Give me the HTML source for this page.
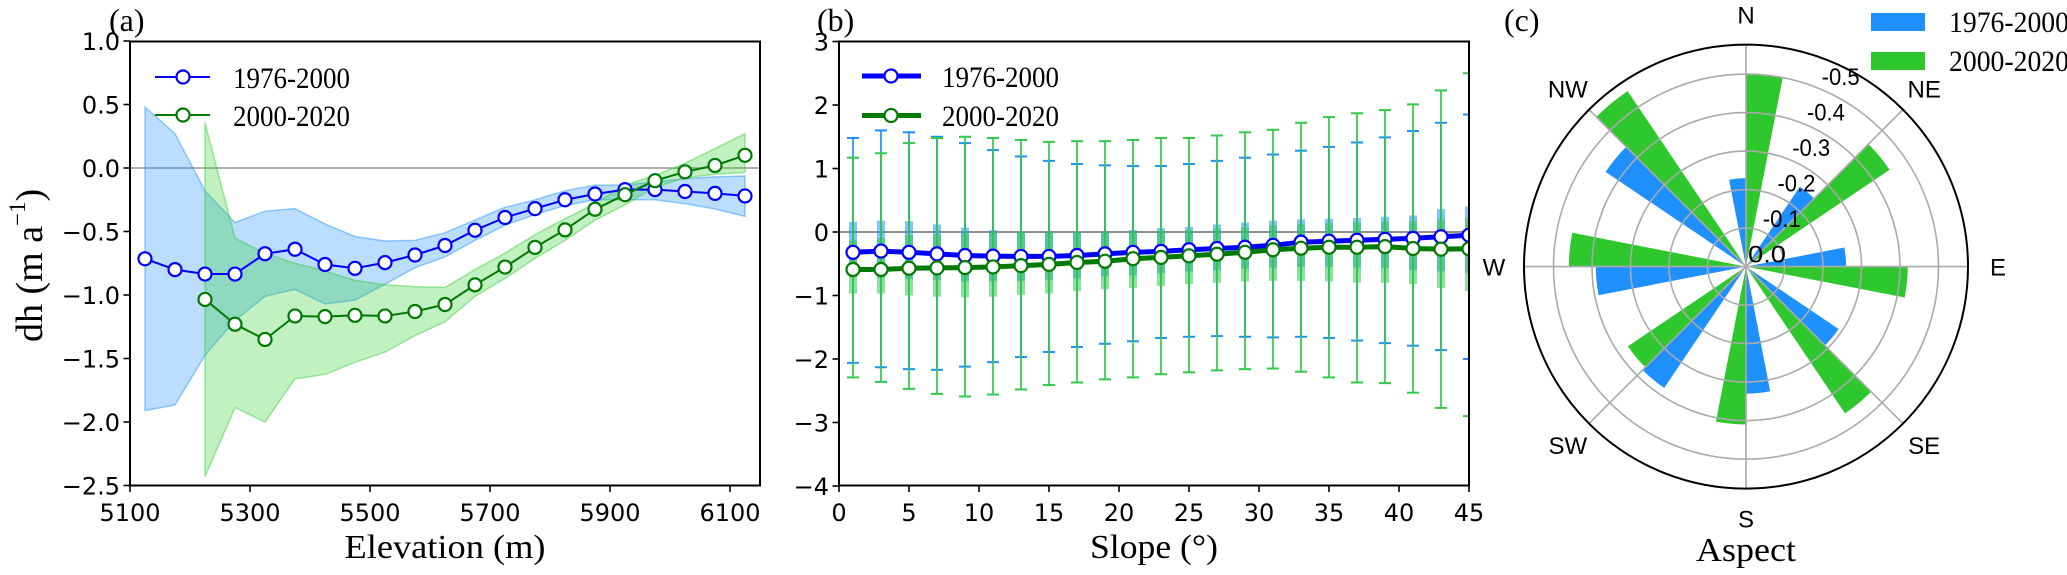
<!DOCTYPE html>
<html><head><meta charset="utf-8"><style>
html,body{margin:0;padding:0;background:#fff;}
svg{display:block;}
body{position:relative;width:2067px;height:575px;overflow:hidden;}
</style></head><body>
<svg id="fig" width="2067" height="575" viewBox="0 0 2067 575" xmlns="http://www.w3.org/2000/svg">
<g id="pa"></g>
<g id="pb"></g>
<g id="pc"></g>
</svg>
<script>
// ---------- Panel (a) data ----------
const elevations = [5125,5175,5225,5275,5325,5375,5425,5475,5525,5575,5625,5675,5725,5775,5825,5875,5925,5975,6025,6075,6125];
const blueMean  = [-0.715,-0.80,-0.835,-0.835,-0.675,-0.64,-0.76,-0.79,-0.745,-0.685,-0.61,-0.49,-0.39,-0.32,-0.25,-0.205,-0.17,-0.17,-0.185,-0.20,-0.22];
const blueUpper = [0.48,0.27,-0.18,-0.43,-0.34,-0.32,-0.44,-0.54,-0.575,-0.57,-0.51,-0.41,-0.31,-0.25,-0.18,-0.135,-0.135,-0.107,-0.084,-0.07,-0.063];
const blueLower = [-1.91,-1.865,-1.475,-1.20,-1.01,-0.955,-1.07,-1.04,-0.915,-0.785,-0.70,-0.57,-0.45,-0.366,-0.295,-0.25,-0.25,-0.25,-0.28,-0.323,-0.38];
const greenElev  = [5225,5275,5325,5375,5425,5475,5525,5575,5625,5675,5725,5775,5825,5875,5925,5975,6025,6075,6125];
const greenMean  = [-1.035,-1.23,-1.35,-1.165,-1.17,-1.16,-1.165,-1.13,-1.075,-0.92,-0.78,-0.625,-0.487,-0.325,-0.21,-0.10,-0.03,0.02,0.10];
const greenUpper = [0.355,-0.553,-0.67,-0.75,-0.81,-0.885,-0.92,-0.935,-0.94,-0.80,-0.67,-0.525,-0.40,-0.28,-0.135,-0.058,0.037,0.153,0.27];
const greenLower = [-2.43,-1.885,-2.0,-1.66,-1.625,-1.53,-1.45,-1.32,-1.21,-1.01,-0.87,-0.71,-0.57,-0.41,-0.29,-0.15,-0.078,-0.05,-0.035];
const aXTicks = [5100,5300,5500,5700,5900,6100];
const aYTicks = [1.0,0.5,0.0,-0.5,-1.0,-1.5,-2.0,-2.5];

// ---------- Panel (b) data ----------
const slopes = [1,3,5,7,9,11,13,15,17,19,21,23,25,27,29,31,33,35,37,39,41,43,45];
const bBlueMean  = [-0.32,-0.30,-0.32,-0.345,-0.37,-0.38,-0.385,-0.385,-0.37,-0.345,-0.32,-0.305,-0.28,-0.26,-0.24,-0.21,-0.16,-0.145,-0.13,-0.115,-0.10,-0.075,-0.05];
const bGreenMean = [-0.59,-0.59,-0.57,-0.565,-0.56,-0.55,-0.53,-0.51,-0.48,-0.46,-0.42,-0.40,-0.375,-0.35,-0.32,-0.28,-0.255,-0.24,-0.24,-0.23,-0.26,-0.27,-0.265];
const bBlueCapHi  = [1.48,1.60,1.57,1.50,1.40,1.29,1.19,1.12,1.07,1.05,1.04,1.04,1.07,1.12,1.17,1.22,1.28,1.34,1.41,1.49,1.59,1.72,1.85];
const bBlueCapLo  = [-2.06,-2.13,-2.16,-2.17,-2.12,-2.05,-1.97,-1.89,-1.81,-1.76,-1.72,-1.67,-1.65,-1.64,-1.65,-1.66,-1.65,-1.67,-1.71,-1.75,-1.79,-1.86,-2.0];
const bGreenCapHi = [1.17,1.24,1.40,1.48,1.50,1.48,1.45,1.42,1.43,1.43,1.45,1.48,1.48,1.52,1.57,1.61,1.72,1.81,1.87,1.92,2.01,2.23,2.50];
const bGreenCapLo = [-2.29,-2.36,-2.47,-2.55,-2.59,-2.56,-2.48,-2.41,-2.37,-2.32,-2.29,-2.24,-2.21,-2.18,-2.16,-2.15,-2.20,-2.29,-2.37,-2.38,-2.53,-2.77,-2.90];
const bBlueQ3  = [0.16,0.18,0.17,0.12,0.07,0.03,0.0,0.0,0.0,0.01,0.03,0.06,0.08,0.12,0.15,0.18,0.20,0.21,0.22,0.24,0.26,0.36,0.40];
const bBlueQ1  = [-0.71,-0.72,-0.74,-0.76,-0.78,-0.78,-0.77,-0.75,-0.73,-0.70,-0.68,-0.65,-0.62,-0.60,-0.58,-0.56,-0.55,-0.55,-0.56,-0.57,-0.60,-0.62,-0.65];
const bGreenQ3 = [-0.13,-0.10,-0.05,-0.03,-0.02,-0.01,0.0,0.0,0.0,0.0,0.01,0.02,0.03,0.05,0.07,0.10,0.12,0.14,0.15,0.16,0.17,0.20,0.22];
const bGreenQ1 = [-0.97,-0.97,-1.0,-1.02,-1.03,-1.02,-0.99,-0.97,-0.93,-0.90,-0.88,-0.85,-0.82,-0.80,-0.78,-0.77,-0.77,-0.78,-0.80,-0.80,-0.82,-0.88,-0.93];
const bXTicks = [0,5,10,15,20,25,30,35,40,45];
const bYTicks = [3,2,1,0,-1,-2,-3,-4];

// ---------- Panel (c) data ----------
const directions = [0,45,90,135,180,225,270,315];
const dirLabels = ["N","NE","E","SE","S","SW","W","NW"];
const aspectBlue  = [0.23,0.25,0.26,0.29,0.33,0.38,0.39,0.44];
const aspectGreen = [0.50,0.45,0.42,0.46,0.41,0.37,0.46,0.55];
const ringValues = [0.0,0.1,0.2,0.3,0.4,0.5];
const ringLabels = ["0.0","-0.1","-0.2","-0.3","-0.4","-0.5"];

const NS = "http://www.w3.org/2000/svg";
function mk(parent, tag, attrs, text){
  const el = document.createElementNS(NS, tag);
  for (const k in attrs) el.setAttribute(k, attrs[k]);
  if (text !== undefined) el.textContent = text;
  parent.appendChild(el);
  return el;
}
const SANS = '"DejaVu Sans","Liberation Sans",sans-serif';
const fmtMinus = s => s.replace('-', '\u2212');

// ===== Panel A =====
const pa = document.getElementById('pa');
const xa = m => 130 + (m - 5100) * 0.6;
const ya = v => 168 - v * 127;
function band(g, xs, up, lo, fill, stroke, name){
  let d = '';
  xs.forEach((x,i)=>{ d += (i? 'L':'M') + xa(x).toFixed(1) + ',' + ya(up[i]).toFixed(1); });
  for (let i = xs.length-1; i>=0; i--) d += 'L' + xa(xs[i]).toFixed(1) + ',' + ya(lo[i]).toFixed(1);
  d += 'Z';
  const p = mk(g,'path',{d:d, fill:fill, 'fill-opacity':0.3, stroke:stroke, 'stroke-opacity':0.45,'stroke-width':1.5});
  
  
}
const clipA = mk(pa,'clipPath',{id:'clipA'}); mk(clipA,'rect',{x:130,y:41.5,width:630,height:444});
const gA = mk(pa,'g',{'clip-path':'url(#clipA)'});
mk(gA,'line',{x1:130,x2:760,y1:ya(0),y2:ya(0),stroke:'#808080','stroke-width':1.3});
band(gA, elevations, blueUpper, blueLower, '#1e90ff', '#1e90ff', 'band-1976-2000');
band(gA, greenElev, greenUpper, greenLower, '#32cd32', '#32cd32', 'band-2000-2020');
function series(g, xs, ys, color, w, r, name, xf, yf){
  const pts = xs.map((x,i)=> xf(x).toFixed(1)+','+yf(ys[i]).toFixed(1)).join(' ');
  const pl = mk(g,'polyline',{points:pts, fill:'none', stroke:color,'stroke-width':w,'stroke-linejoin':'round'});
  
  
  xs.forEach((x,i)=>{
    const c = mk(g,'circle',{cx:xf(x), cy:yf(ys[i]), r:r, fill:'#fff', stroke:color,'stroke-width':2.2});
    
    
  });
}
series(gA, elevations, blueMean, '#0000ff', 2, 6.5, 'a-1976-2000', xa, ya);
series(gA, greenElev, greenMean, '#007a00', 2, 6.5, 'a-2000-2020', xa, ya);
mk(pa,'rect',{x:130,y:41.5,width:630,height:444,fill:'none',stroke:'#000','stroke-width':2});
aXTicks.forEach(t=>{
  mk(pa,'line',{x1:xa(t),x2:xa(t),y1:485.5,y2:492,stroke:'#000','stroke-width':1.6});
  const tx = mk(pa,'text',{x:xa(t),y:521,'font-family':SANS,'font-size':24,'text-anchor':'middle'}, String(t));
  
  
});
aYTicks.forEach(t=>{
  mk(pa,'line',{x1:123.5,x2:130,y1:ya(t),y2:ya(t),stroke:'#000','stroke-width':1.6});
  const tx = mk(pa,'text',{x:120,y:ya(t)+9,'font-family':SANS,'font-size':24,'text-anchor':'end'}, fmtMinus(t.toFixed(1)));
  
  
});

// ===== Panel B =====
const pb = document.getElementById('pb');
const xb = s => 839 + s * 14;
const yb = v => 232 - v * 63.5;
const clipB = mk(pb,'clipPath',{id:'clipB'}); mk(clipB,'rect',{x:839,y:41.5,width:630,height:444});
const gB = mk(pb,'g',{'clip-path':'url(#clipB)'});
mk(gB,'line',{x1:839,x2:1469,y1:yb(0),y2:yb(0),stroke:'#909090','stroke-width':2});
function errbars(hi, lo, q3, q1, color, name){
  slopes.forEach((s,i)=>{
    const x = xb(s);
    const g = mk(gB,'g',{});
    
    
    mk(g,'rect',{x:x-4,y:yb(q3[i]),width:8,height:yb(q1[i])-yb(q3[i]),fill:color,'fill-opacity':0.55});
    mk(g,'line',{x1:x,x2:x,y1:yb(hi[i]),y2:yb(lo[i]),stroke:color,'stroke-width':2,'stroke-opacity':0.85});
    mk(g,'line',{x1:x-6,x2:x+6,y1:yb(hi[i]),y2:yb(hi[i]),stroke:color,'stroke-width':2});
    mk(g,'line',{x1:x-6,x2:x+6,y1:yb(lo[i]),y2:yb(lo[i]),stroke:color,'stroke-width':2});
  });
}
errbars(bBlueCapHi, bBlueCapLo, bBlueQ3, bBlueQ1, '#1e90ff', 'b-1976-2000');
errbars(bGreenCapHi, bGreenCapLo, bGreenQ3, bGreenQ1, '#32c84a', 'b-2000-2020');
series(gB, slopes, bBlueMean, '#0000ff', 5, 6.5, 'b-1976-2000', xb, yb);
series(gB, slopes, bGreenMean, '#007a00', 5, 6.5, 'b-2000-2020', xb, yb);
mk(pb,'rect',{x:839,y:41.5,width:630,height:444,fill:'none',stroke:'#000','stroke-width':2});
bXTicks.forEach(t=>{
  mk(pb,'line',{x1:xb(t),x2:xb(t),y1:485.5,y2:492,stroke:'#000','stroke-width':1.6});
  const tx = mk(pb,'text',{x:xb(t),y:521,'font-family':SANS,'font-size':24,'text-anchor':'middle'}, String(t));
  
  
});
bYTicks.forEach(t=>{
  mk(pb,'line',{x1:832.5,x2:839,y1:yb(t),y2:yb(t),stroke:'#000','stroke-width':1.6});
  const tx = mk(pb,'text',{x:829,y:yb(t)+9,'font-family':SANS,'font-size':24,'text-anchor':'end'}, fmtMinus(String(t)));
  
  
});

// ===== Panel C =====
const pc = document.getElementById('pc');
const cx = 1746, cy = 266.6, R = 222;
const rp = v => v * 385;
const pt = (deg, r) => [cx + r*Math.sin(deg*Math.PI/180), cy - r*Math.cos(deg*Math.PI/180)];
function wedge(a0, a1, r, color, name){
  const p0 = pt(a0, r), p1 = pt(a1, r);
  const d = `M${cx},${cy}L${p0[0].toFixed(1)},${p0[1].toFixed(1)}A${r},${r} 0 0 1 ${p1[0].toFixed(1)},${p1[1].toFixed(1)}Z`;
  const w = mk(pc,'path',{d:d, fill:color});
  
  
}
const W = 11;
directions.forEach((d,i)=>{
  wedge(d - W, d, rp(aspectBlue[i]), '#1e90ff', 'aspect-bar-1976-2000-' + dirLabels[i]);
  wedge(d, d + W, rp(aspectGreen[i]), '#2ec82e', 'aspect-bar-2000-2020-' + dirLabels[i]);
});
ringValues.forEach(v=>{ if (v>0) mk(pc,'circle',{cx:cx,cy:cy,r:rp(v),fill:'none',stroke:'#aaa','stroke-width':1.6}); });
directions.forEach(d=>{ const p = pt(d, R); mk(pc,'line',{x1:cx,y1:cy,x2:p[0],y2:p[1],stroke:'#aaa','stroke-width':1.6}); });
mk(pc,'circle',{cx:cx,cy:cy,r:R,fill:'none',stroke:'#000','stroke-width':2});
ringValues.forEach((v,i)=>{
  const p = pt(22.5, rp(v));
  const t = mk(pc,'text',{x:p[0]+21,y:p[1]-13+9,'font-family':'"Liberation Sans",sans-serif','font-size':24,'text-anchor':'middle',textLength:38,lengthAdjust:'spacingAndGlyphs'}, ringLabels[i]);
  
  
});
directions.forEach((d,i)=>{
  const p = pt(d, R + 30);
  const t = mk(pc,'text',{x:p[0],y:p[1]+9,'font-family':'"Liberation Sans",sans-serif','font-size':24,'text-anchor':'middle'}, dirLabels[i]);
  
  
});
</script>

<svg width="2067" height="575" style="position:absolute;left:0;top:0" xmlns="http://www.w3.org/2000/svg">
  <text x="109" y="31" font-family="Liberation Serif,serif" font-size="32">(a)</text>
  <text x="817" y="31" font-family="Liberation Serif,serif" font-size="32">(b)</text>
  <text x="1504" y="31" font-family="Liberation Serif,serif" font-size="32">(c)</text>

  <text x="445" y="558" font-family="Liberation Serif,serif" font-size="34" text-anchor="middle" textLength="201" lengthAdjust="spacingAndGlyphs">Elevation (m)</text>
  <text x="1154" y="558" font-family="Liberation Serif,serif" font-size="34" text-anchor="middle" textLength="128" lengthAdjust="spacingAndGlyphs">Slope (°)</text>
  <text x="1746" y="561" font-family="Liberation Serif,serif" font-size="34" text-anchor="middle" textLength="100" lengthAdjust="spacingAndGlyphs">Aspect</text>
  <text transform="translate(42,342) rotate(-90)" font-family="Liberation Serif,serif" font-size="38">dh (m a<tspan font-size="23" dy="-17">−1</tspan><tspan dy="17">)</tspan></text>

  <g>
    <line x1="155" x2="210" y1="77" y2="77" stroke="#0000ff" stroke-width="2"/>
    <circle cx="183" cy="77" r="6.5" fill="#fff" stroke="#0000ff" stroke-width="2.2"/>
    <text x="233" y="88" font-family="Liberation Serif,serif" font-size="30" textLength="117" lengthAdjust="spacingAndGlyphs">1976-2000</text>
    <line x1="155" x2="210" y1="115" y2="115" stroke="#007a00" stroke-width="2"/>
    <circle cx="183" cy="115" r="6.5" fill="#fff" stroke="#007a00" stroke-width="2.2"/>
    <text x="233" y="126" font-family="Liberation Serif,serif" font-size="30" textLength="117" lengthAdjust="spacingAndGlyphs">2000-2020</text>
  </g>
  <g>
    <line x1="862" x2="921" y1="76" y2="76" stroke="#0000ff" stroke-width="5"/>
    <circle cx="891" cy="76" r="6.5" fill="#fff" stroke="#0000ff" stroke-width="2.2"/>
    <text x="942" y="87" font-family="Liberation Serif,serif" font-size="30" textLength="117" lengthAdjust="spacingAndGlyphs">1976-2000</text>
    <line x1="862" x2="921" y1="115.5" y2="115.5" stroke="#007a00" stroke-width="5"/>
    <circle cx="891" cy="115.5" r="6.5" fill="#fff" stroke="#007a00" stroke-width="2.2"/>
    <text x="942" y="126" font-family="Liberation Serif,serif" font-size="30" textLength="117" lengthAdjust="spacingAndGlyphs">2000-2020</text>
  </g>
  <g>
    <rect x="1871" y="13" width="54" height="18" fill="#1e90ff"/>
    <text x="1949" y="32" font-family="Liberation Serif,serif" font-size="30" textLength="120" lengthAdjust="spacingAndGlyphs">1976-2000</text>
    <rect x="1871" y="52" width="54" height="18" fill="#2ec82e"/>
    <text x="1949" y="71" font-family="Liberation Serif,serif" font-size="30" textLength="120" lengthAdjust="spacingAndGlyphs">2000-2020</text>
  </g>
</svg>
</body></html>
